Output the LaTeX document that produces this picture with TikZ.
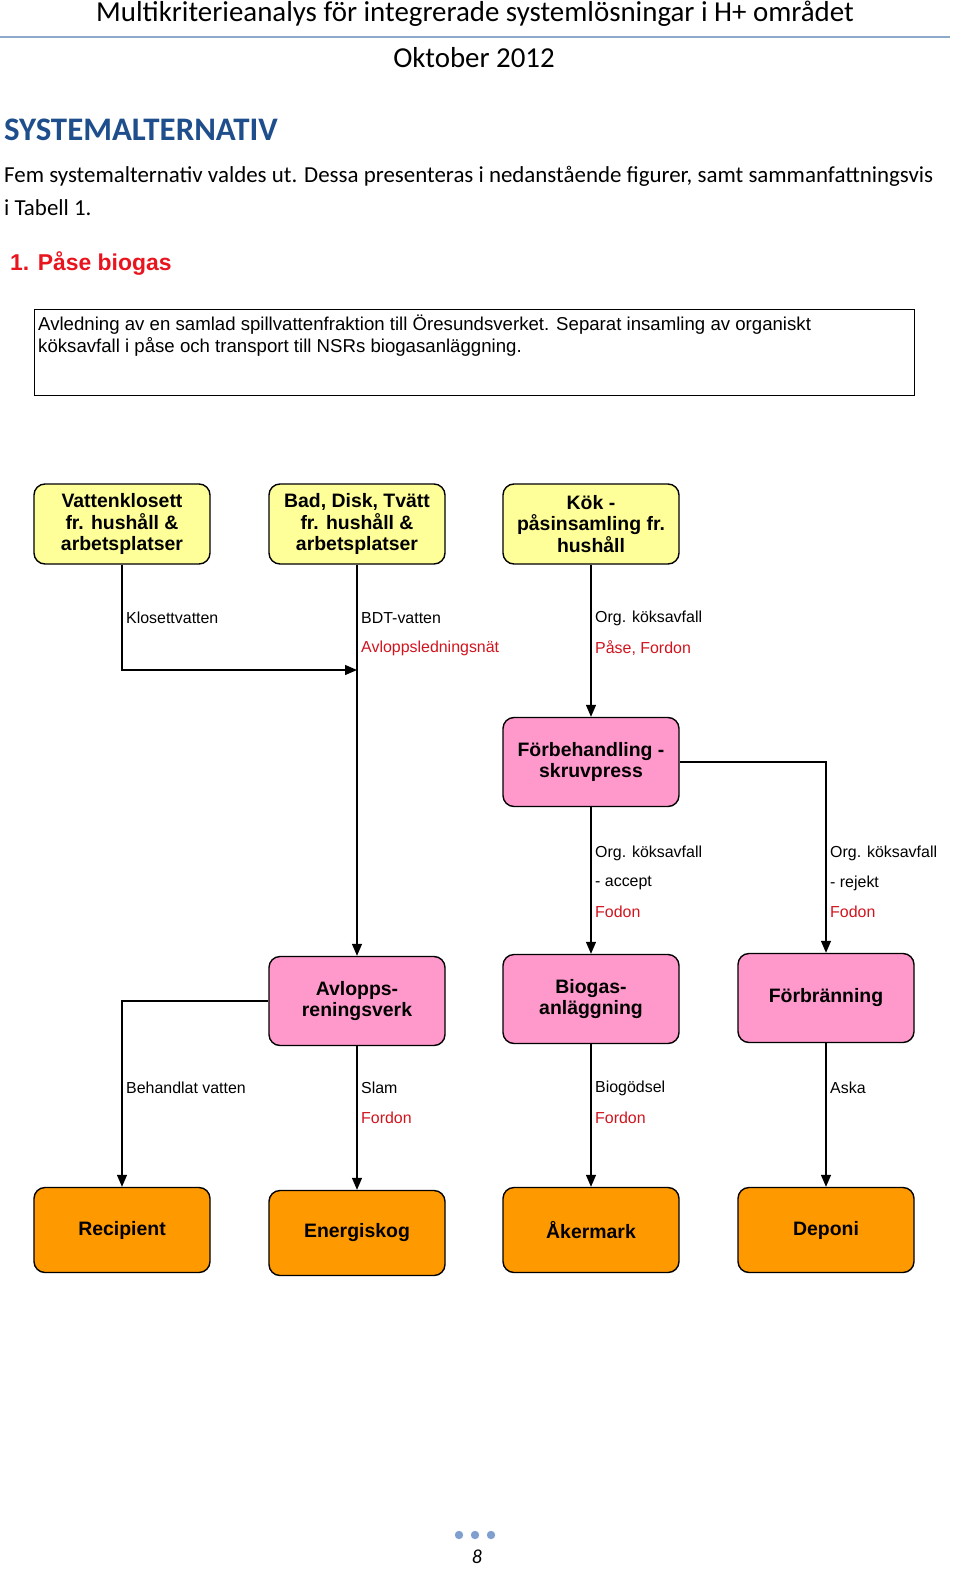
\documentclass[tikz,border=0pt]{standalone}
\usepackage{fontspec}
\setmainfont{Carlito}
\newfontfamily\arialf{Liberation Sans}
\usetikzlibrary{arrows.meta}
\definecolor{boxyellow}{HTML}{FFFF99}
\definecolor{boxpink}{HTML}{FF99CC}
\definecolor{boxorange}{HTML}{FF9900}
\definecolor{labred}{HTML}{D0141E}
\definecolor{titlered}{HTML}{E8141E}
\definecolor{headblue}{HTML}{1F4E8C}
\definecolor{ruleblue}{HTML}{8EAACB}
\definecolor{dotblue}{HTML}{7F9FCF}
\tikzset{
  procbox/.style={draw, line width=1.4bp, rounded corners=11bp, minimum width=176bp, align=center,
    font=\arialf\bfseries\fontsize{19.5}{22}\selectfont, inner sep=2bp},
  ybox/.style={procbox, fill=boxyellow, minimum height=80bp},
  pbox/.style={procbox, fill=boxpink, minimum height=89bp},
  obox/.style={procbox, fill=boxorange, minimum height=85bp},
  flow/.style={line width=1.3bp, -{Triangle[length=12bp,width=10bp]}},
  lab/.style={anchor=west, inner sep=0pt, font=\arialf\fontsize{16}{18}\selectfont},
  rlab/.style={lab, text=labred},
  hdr/.style={inner sep=0pt, font=\fontsize{29}{33}\selectfont},
  body/.style={inner sep=0pt, anchor=west, font=\fontsize{23}{27}\selectfont}
}
\begin{document}
\begin{tikzpicture}[x=1bp,y=-1bp]
\useasboundingbox (0,0) rectangle (960,1584);
% header
\node[hdr] (htitle) at (475,14) {Multikriterieanalys för integrerade systemlösningar i H+ området};
\draw[ruleblue, line width=1.2bp] (0,37) -- (950,37);
\node[hdr] (hdate) at (474,58) {Oktober 2012};
\node[inner sep=0pt, anchor=west, text=headblue, font=\bfseries\fontsize{33}{36}\selectfont] (sect) at (4,130) {SYSTEMALTERNATIV};
\node[body] (p1) at (4,176) {Fem systemalternativ valdes ut. Dessa presenteras i nedanstående figurer, samt sammanfattningsvis};
\node[body] (p2) at (4,208) {i Tabell 1.};
\node[inner sep=0pt, anchor=west, text=titlered, font=\arialf\bfseries\fontsize{23}{27}\selectfont] (alt) at (10,263) {1. Påse biogas};
% description box
\node[draw, line width=1.3bp, minimum width=880bp, minimum height=86bp, anchor=north west, inner sep=0pt] (desc) at (34,309) {};
\node[anchor=north west, inner sep=0pt, align=left, font=\arialf\fontsize{18.7}{22}\selectfont] (desctext) at (38,315)
  {Avledning av en samlad spillvattenfraktion till Öresundsverket. Separat insamling av organiskt\\
   köksavfall i påse och transport till NSRs biogasanläggning.};
% row 1
\node[ybox] (vk) at (122,524) {Vattenklosett\\fr. hushåll \&\\arbetsplatser};
\node[ybox] (bad) at (357,524) {Bad, Disk, Tvätt\\fr. hushåll \&\\arbetsplatser};
\node[ybox] (kok) at (591,524) {Kök -\\påsinsamling fr.\\hushåll};
% row 2
\node[pbox] (forbeh) at (591,762) {Förbehandling -\\skruvpress};
% row 3
\node[pbox] (avl) at (357,1001) {Avlopps-\\reningsverk};
\node[pbox] (bio) at (591,999) {Biogas-\\anläggning};
\node[pbox] (forbr) at (826,998) {Förbränning};
% row 4
\node[obox] (rec) at (122,1230) {Recipient};
\node[obox] (ene) at (357,1233) {Energiskog};
\node[obox] (aker) at (591,1230) {Åkermark};
\node[obox] (dep) at (826,1230) {Deponi};
% connectors
\coordinate (join) at (357,670);
\draw[flow] (vk.south) |- (join);
\draw[flow] (bad.south) -- (avl.north);
\draw[flow] (kok.south) -- (forbeh.north);
\draw[flow] (forbeh.east) -| (forbr.north);
\draw[flow] (forbeh.south) -- (bio.north);
\draw[flow] (avl.west) -| (rec.north);
\draw[flow] (avl.south) -- (ene.north);
\draw[flow] (bio.south) -- (aker.north);
\draw[flow] (forbr.south) -- (dep.north);
% labels
\node[lab] (l1) at (126,618) {Klosettvatten};
\node[lab] (l2) at (361,618) {BDT-vatten};
\node[rlab] (l3) at (361,648) {Avloppsledningsnät};
\node[lab] (l4) at (595,618) {Org. köksavfall};
\node[rlab] (l5) at (595,648) {Påse, Fordon};
\node[lab] (l6) at (595,853) {Org. köksavfall};
\node[lab] (l7) at (595,883) {- accept};
\node[rlab] (l8) at (595,912) {Fodon};
\node[lab] (l9) at (830,853) {Org. köksavfall};
\node[lab] (l10) at (830,883) {- rejekt};
\node[rlab] (l11) at (830,912) {Fodon};
\node[lab] (l12) at (126,1088) {Behandlat vatten};
\node[lab] (l13) at (361,1088) {Slam};
\node[rlab] (l14) at (361,1118) {Fordon};
\node[lab] (l15) at (595,1088) {Biogödsel};
\node[rlab] (l16) at (595,1118) {Fordon};
\node[lab] (l17) at (830,1088) {Aska};
% footer
\fill[dotblue] (459,1535) circle (4.2bp) (475,1535) circle (4.2bp) (491,1535) circle (4.2bp);
\node[inner sep=0pt, font=\itshape\fontsize{20}{24}\selectfont] (pg) at (477,1557) {8};
\end{tikzpicture}
\end{document}
